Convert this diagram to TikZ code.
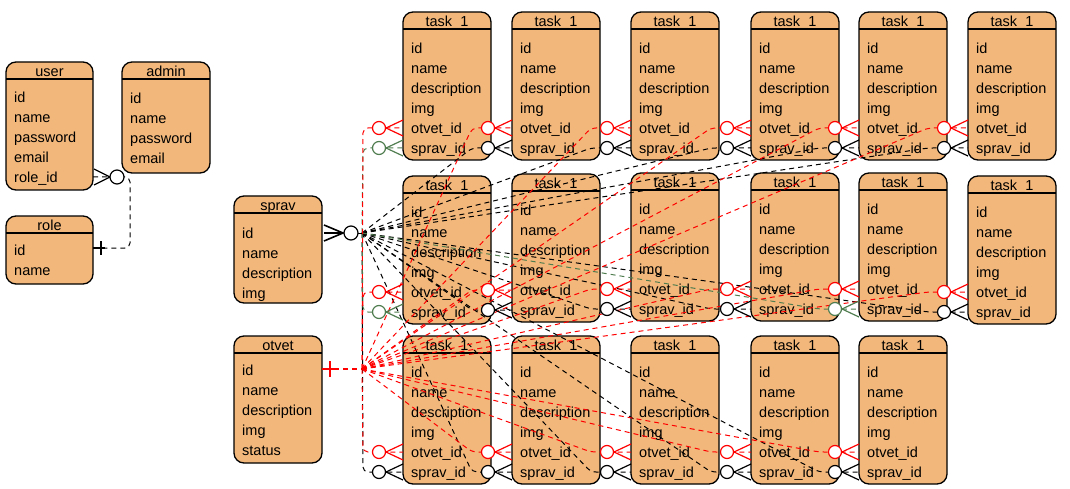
\documentclass[tikz,border=0pt]{standalone}
\usepackage{fontspec}
\setmainfont{Liberation Sans}
\usetikzlibrary{calc}
\definecolor{boxfill}{RGB}{242,183,122}
\definecolor{erGreen}{RGB}{80,125,80}
\tikzset{
  tbl/.style={draw=black, line width=1.3pt, fill=boxfill, rounded corners=10pt, anchor=north west, inner sep=0pt, outer sep=0pt},
  fld/.style={anchor=west, inner sep=0pt, text height=10.5pt, text depth=3pt, font=\fontsize{14.5}{17}\selectfont},
  hdr/.style={anchor=center, inner sep=0pt, text height=10.5pt, text depth=3pt, font=\fontsize{14.5}{17}\selectfont},
  edgeline/.style={line width=1pt, dash pattern=on 5pt off 4pt, rounded corners=5pt},
  mk/.style={line width=1.2pt},
}
\newcommand{\ertable}[8]{%
  \node[tbl, minimum width=#4pt, minimum height=#5pt] (#1) at (#2,#3) {};
  \draw[line width=1.3pt] ($(#1.north west)+(0,17)$) -- ($(#1.north east)+(0,17)$);
  \node[hdr] (#1-h) at ($(#1.north)+(0,10.5)$) {#6};
  \foreach \t [count=\i from 0] in {#8} {\node[fld] (#1-f\i) at ($(#1.north west)+(8,#7+2+20*\i)$) {\t};}
}
\newcommand{\taskbox}[3]{%
  \ertable{#1}{#2}{#3}{88}{148}{task\_1}{36}{id,name,description,img,otvet\_id,sprav\_id}
  \coordinate (#1-o) at ($(#1.north west)+(0,116)$);
  \coordinate (#1-s) at ($(#1.north west)+(0,136)$);
}
\newcommand{\zom}[2]{%
  \draw[mk,#2] ($(#1)+(-17,0)$) -- ($(#1)+(0,-8)$) ($(#1)+(-17,0)$) -- ($(#1)+(0,8)$);
  \draw[mk,#2,fill=white] ($(#1)+(-24,0)$) circle[radius=6.5];
}
\begin{document}
\begin{tikzpicture}[x=1pt,y=-1pt]
\useasboundingbox (0,0) rectangle (1070,489);
% left tables
\ertable{user}{6}{62}{87}{128}{user}{35}{id,name,password,email,role\_id}
\ertable{admin}{122}{62}{88}{111}{admin}{36}{id,name,password,email}
\ertable{role}{6}{216}{87}{68}{role}{34}{id,name}
\ertable{sprav}{234}{196}{88}{107}{sprav}{37}{id,name,description,img}
\ertable{otvet}{234}{336}{88}{127}{otvet}{34}{id,name,description,img,status}
% task tables
\taskbox{a1}{403}{12}\taskbox{a2}{512}{12}\taskbox{a3}{631}{12}
\taskbox{a4}{751}{12}\taskbox{a5}{859}{12}\taskbox{a6}{968}{12}
\taskbox{b1}{403}{176}\taskbox{b2}{512}{174}\taskbox{b3}{631}{173}
\taskbox{b4}{751}{173}\taskbox{b5}{859}{173}\taskbox{b6}{968}{176}
\taskbox{c1}{403}{336}\taskbox{c2}{512}{336}\taskbox{c3}{631}{336}
\taskbox{c4}{751}{336}\taskbox{c5}{859}{336}
% hubs
\coordinate (sp) at ($(sprav.north east)+(0,37)$);
\coordinate (sh) at ($(sprav.north east)+(40,37)$);
\coordinate (op) at ($(otvet.north east)+(0,33)$);
\coordinate (oh) at ($(otvet.north east)+(40,33)$);
% user-role
\coordinate (ur) at ($(user.north east)+(0,115)$);
\coordinate (rr) at ($(role.north east)+(0,32)$);
\coordinate (uk) at ($(user.north east)+(37,115)$);
\draw[edgeline] (ur) -- (uk) -- (uk |- rr) -- (rr);
\draw[mk] ($(ur)+(1,-8)$) -- ($(ur)+(17,0)$) -- ($(ur)+(1,8)$);
\draw[mk,fill=white] ($(ur)+(24,0)$) circle[radius=7];
\draw[mk] (rr) -- ($(rr)+(12,0)$) ($(rr)+(8,-7)$) -- ($(rr)+(8,7)$);
% edges sprav
\foreach \n in {a2,a3,a4,a5,a6,b2,b3,b4,b6,c1,c2,c3,c4,c5}{
  \draw[edgeline,black] (sh) -- ($(\n-s)+(-40,0)$) -- (\n-s);
}
\foreach \n in {a1,b1,b5}{
  \draw[edgeline,erGreen] (sh) -- ($(\n-s)+(-40,0)$) -- (\n-s);
}
% edges otvet
\foreach \n in {a1,a2,a3,a4,a5,a6,b1,b2,b3,b4,b5,b6,c1,c2,c3,c4,c5}{
  \draw[edgeline,red] (oh) -- ($(\n-o)+(-40,0)$) -- (\n-o);
}
% source markers
\draw[edgeline,black] ($(sp)+(36,0)$) -- (sh);
\draw[mk,line width=1.6pt] ($(sp)+(2,-8)$) -- ($(sp)+(21,0)$) -- ($(sp)+(2,8)$) ($(sp)+(2,0)$) -- ($(sp)+(21,0)$);
\draw[mk,fill=white] ($(sp)+(29,0)$) circle[radius=7];
\draw[edgeline,red,line width=1.6pt] ($(op)+(12,0)$) -- (oh);
\draw[mk,red,line width=1.8pt] (op) -- ($(op)+(12,0)$) ($(op)+(8,-8)$) -- ($(op)+(8,8)$);
% target markers
\foreach \n in {a1,a2,a3,a4,a5,a6,b1,b2,b3,b4,b5,b6,c1,c2,c3,c4,c5}{
  \zom{\n-o}{red}
}
\foreach \n in {a2,a3,a4,a5,a6,b2,b3,b4,b6,c1,c2,c3,c4,c5}{
  \zom{\n-s}{black}
}
\foreach \n in {a1,b1,b5}{
  \zom{\n-s}{erGreen}
}
\end{tikzpicture}
\end{document}
